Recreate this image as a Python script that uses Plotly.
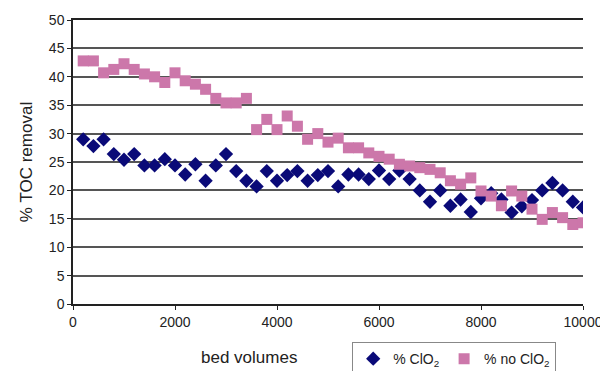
import plotly.graph_objects as go

bed_volumes = list(range(200, 10001, 200))
clo2 = [29, 27.8, 29, 26.4, 25.4, 26.4, 24.4, 24.4, 25.5, 24.4,
        22.8, 24.6, 21.7, 24.4, 26.4, 23.4, 21.7, 20.7, 23.4, 21.7,
        22.7, 23.4, 21.7, 22.7, 23.4, 20.7, 22.8, 22.8, 22.0, 23.5,
        22.0, 23.5, 22.0, 20.0, 18.0, 20.0, 17.3, 18.4, 16.2, 18.6,
        19.5, 18.4, 16.1, 17.2, 18.3, 20.0, 21.3, 20.0, 18.0, 17.0]
no_clo2 = [42.8, 42.8, 40.7, 41.3, 42.3, 41.3, 40.5, 40.0, 39.0, 40.7,
           39.3, 38.7, 37.8, 36.2, 35.4, 35.4, 36.2, 30.7, 32.5, 30.7,
           33.1, 31.3, 29.0, 30.0, 28.5, 29.2, 27.5, 27.5, 26.6, 26.0,
           25.5, 24.6, 24.3, 24.0, 23.7, 23.1, 21.7, 21.1, 22.2, 19.9,
           19.0, 17.3, 19.9, 19.0, 16.7, 14.9, 16.1, 15.2, 14.0, 14.3]
x_ticks = [0, 2000, 4000, 6000, 8000, 10000]
x_tick_labels = ["0", "2000", "4000", "6000", "8000", "10000"]

fig = go.Figure()
fig.add_trace(go.Scatter(x=bed_volumes, y=clo2, mode="markers", name="% ClO<sub>2</sub>",
                         marker=dict(symbol="diamond", size=11, color="#0a0a78")))
fig.add_trace(go.Scatter(x=bed_volumes, y=no_clo2, mode="markers", name="% no ClO<sub>2</sub>",
                         marker=dict(symbol="square", size=11, color="#cc77aa")))

font = "Liberation Sans, Arial, sans-serif"
fig.update_layout(
    width=600, height=371,
    margin=dict(l=73, r=17, t=20, b=67),
    paper_bgcolor="white", plot_bgcolor="white",
    font=dict(family=font, size=14, color="#222"),
    xaxis=dict(range=[0, 10000], tickvals=x_ticks, ticktext=x_tick_labels,
               ticks="outside", ticklen=4, tickcolor="#222", automargin=False,
               ticklabeloverflow="allow",
               showline=True, linecolor="#222", linewidth=1.5, mirror=True,
               showgrid=False, zeroline=False, tickfont=dict(size=14)),
    yaxis=dict(range=[0, 50], dtick=5, ticks="outside", ticklen=4, tickcolor="#222",
               showline=True, linecolor="#222", linewidth=1.5, automargin=False,
               showgrid=True, gridcolor="#555", gridwidth=1.5, zeroline=False,
               tickfont=dict(size=14),
               title=dict(text="% TOC removal", font=dict(size=17), standoff=12)),
    legend=dict(orientation="h", xref="container", yref="container",
                x=0.587, y=0.078, xanchor="left", yanchor="top",
                bordercolor="#888", borderwidth=1, bgcolor="white",
                font=dict(size=14), itemwidth=30, traceorder="normal"),
    annotations=[dict(text="bed volumes", x=0.345, y=-0.19, xref="paper", yref="paper",
                      xanchor="center", yanchor="middle", showarrow=False,
                      font=dict(size=17))],
)

fig.write_html("out.html")
